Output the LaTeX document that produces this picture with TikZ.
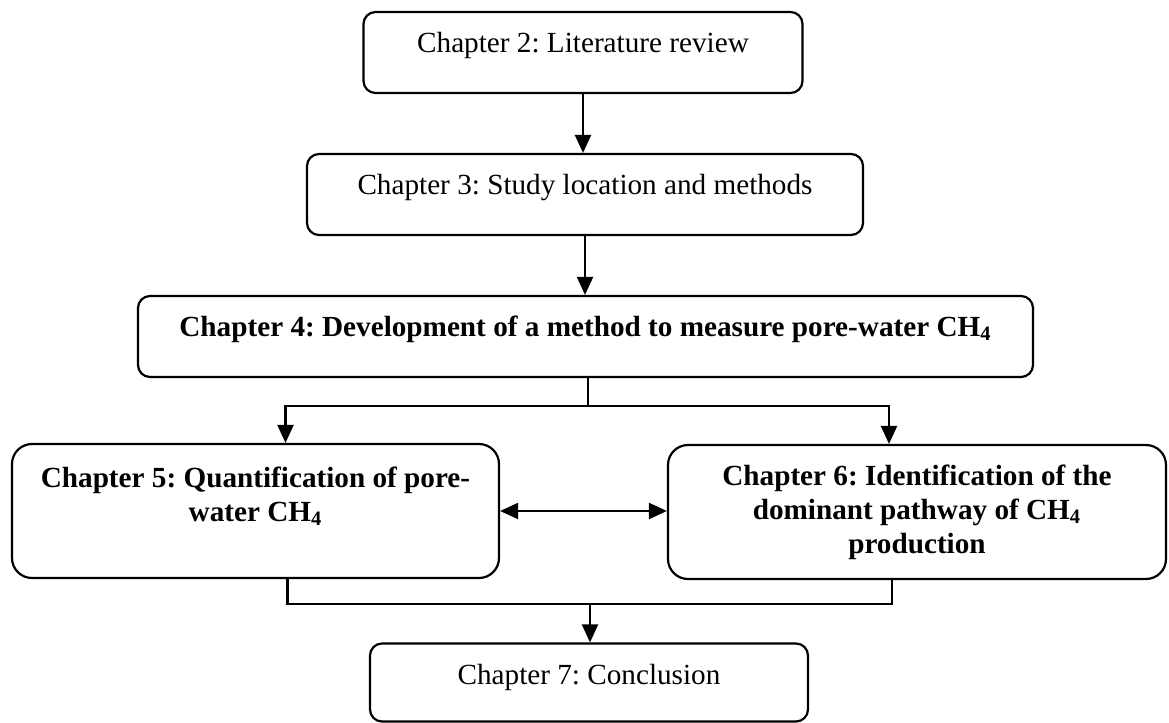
\documentclass[tikz,border=0pt]{standalone}
\usepackage{fontspec}
\setmainfont{Liberation Serif}
\usetikzlibrary{arrows.meta}
\frenchspacing

\newcommand{\chapfont}{\fontsize{14.6}{17}\selectfont}

\tikzset{
	chapbox/.style={draw, line width=1.1pt, rounded corners=6pt, minimum height=40.5pt, inner xsep=0pt, inner ysep=0pt, text height=20.25pt, text depth=20.25pt},
	widebox/.style={draw, line width=1.1pt, rounded corners=10pt, minimum height=67pt, inner xsep=0pt, align=center, font=\chapfont\bfseries},
	flow/.style={line width=1.1pt, -{Triangle[length=9pt,width=8pt]}},
	both/.style={line width=1.1pt, {Triangle[length=9pt,width=8pt]}-{Triangle[length=9pt,width=8pt]}},
	link/.style={line width=1.1pt},
}

\begin{document}
\begin{tikzpicture}[x=0.5pt, y=-0.5pt, font=\chapfont]

	\useasboundingbox (0,0) rectangle (1169,723);

	\node[chapbox, minimum width=219.5pt] (ch2) at (583,52.5) {Chapter 2: Literature review};
	\node[chapbox, minimum width=278pt] (ch3) at (585,194.5) {Chapter 3: Study location and methods};
	\node[chapbox, minimum width=447.5pt, font=\chapfont\bfseries] (ch4) at (585.5,336.5) {Chapter 4: Development of a method to measure pore-water CH\textsubscript{4}};
	\node[widebox, minimum width=243.5pt] (ch5) at (255.5,511) {Chapter 5: Quantification of pore-\\water CH\textsubscript{4}\\ \mbox{}};
	\node[widebox, minimum width=249pt] (ch6) at (917,512) {Chapter 6: Identification of the\\dominant pathway of CH\textsubscript{4}\\production};
	\node[chapbox, minimum width=219pt, minimum height=39pt, text depth=18.75pt] (ch7) at (589,682.5) {Chapter 7: Conclusion};

	\draw[flow] (ch2.south) -- (ch2.south |- ch3.north);
	\draw[flow] (ch3.south) -- (ch3.south |- ch4.north);

	\coordinate (fork) at (588,406);
	\draw[link] (fork |- ch4.south) -- (fork);
	\draw[flow] (fork) -| ([xshift=15pt]ch5.north);
	\draw[flow] (fork) -| ([xshift=-14pt]ch6.north);

	\draw[both] (ch5.east) -- (ch6.west |- ch5.east);

	\coordinate (join) at (590,604);
	\draw[link] ([xshift=16pt]ch5.south) |- (join);
	\draw[link] ([xshift=-12.5pt]ch6.south) |- (join);
	\draw[flow] (join) -- (join |- ch7.north);
\end{tikzpicture}
\end{document}
